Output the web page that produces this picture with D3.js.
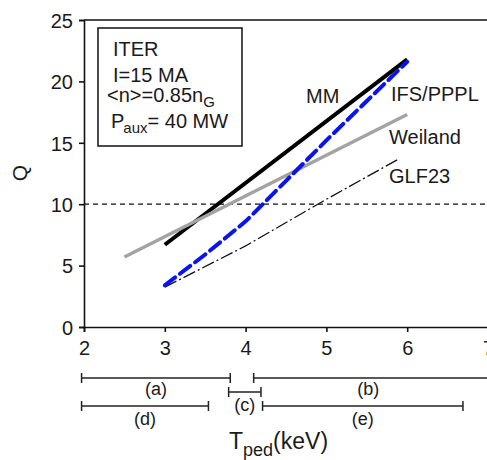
<!DOCTYPE html>
<html><head><meta charset="utf-8">
<script src="https://cdn.jsdelivr.net/npm/d3@7/dist/d3.min.js"></script>
<style>body{margin:0;background:#fff}svg{display:block}text{font-family:"Liberation Sans",Arial,sans-serif;fill:#1a1a1a}</style>
</head><body><svg id="c" width="487" height="460"></svg>
<script>
const tTicks = [2,3,4,5,6,7];
const qTicks = [0,5,10,15,20,25];
const mmT = [3,6], mmQ = [6.7,21.8];
const ifsT = [3,3.5,4,4.5,5,5.5,6], ifsQ = [3.4,5.9,8.6,11.9,15.2,18.4,21.6];
const weiT = [2.5,6], weiQ = [5.7,17.3];
const glfT = [3,4,5,5.9], glfQ = [3.25,6.6,10.4,13.7];
const qTarget = 10;
const rangeLabels = ["(a)","(b)","(c)","(d)","(e)"];
const rangeStart = [1.97,4.1,3.79,1.97,4.21];
const rangeEnd = [3.81,7.0,4.19,3.54,6.69];
const rangeRow = [0,0,1,2,2];
const boxLines = ["ITER","I=15 MA"];

const svg = d3.select("#c");
const x = d3.scaleLinear().domain([2,7]).range([84,488]);
const y = d3.scaleLinear().domain([0,25]).range([327,20]);

// axes
const xa = svg.append("g").attr("transform",`translate(0,${y(0)})`)
  .call(d3.axisBottom(x).tickValues(tTicks).tickFormat(d3.format("d")).tickSizeOuter(0).tickSize(5).tickPadding(9));
const ya = svg.append("g").attr("transform",`translate(${x(2)},0)`)
  .call(d3.axisLeft(y).tickValues(qTicks).tickSizeOuter(0).tickSize(5).tickPadding(6));
[xa,ya].forEach(g=>{
  g.selectAll("path,line").attr("stroke","#111").attr("stroke-width",1.6);
  g.selectAll("text").attr("font-size",20).attr("fill","#1a1a1a").style("font-family","Liberation Sans, Arial, sans-serif");
});
ya.selectAll("text").attr("dy","0.36em");
// top border
svg.append("line").attr("x1",x(2)).attr("x2",x(7)).attr("y1",y(25)).attr("y2",y(25)).attr("stroke","#111").attr("stroke-width",1.6);
svg.append("line").attr("x1",x(7)).attr("x2",x(7)).attr("y1",y(25)).attr("y2",y(0)).attr("stroke","#111").attr("stroke-width",1.6);

// target line
svg.append("line").attr("x1",x(2)).attr("x2",x(7)).attr("y1",y(qTarget)).attr("y2",y(qTarget))
  .attr("stroke","#111").attr("stroke-width",1.2).attr("stroke-dasharray","5,4");

const line = d3.line().x(d=>x(d[0])).y(d=>y(d[1]));
const zip = (a,b)=>a.map((v,i)=>[v,b[i]]);
svg.append("path").attr("d",line(zip(mmT,mmQ))).attr("fill","none").attr("stroke","#000").attr("stroke-width",4);
svg.append("path").attr("d",line(zip(weiT,weiQ))).attr("fill","none").attr("stroke","#a3a3a3").attr("stroke-width",3.5);
svg.append("path").attr("d",line(zip(glfT,glfQ))).attr("fill","none").attr("stroke","#111").attr("stroke-width",1.3).attr("stroke-dasharray","13,3,2,3");
svg.append("path").attr("d",line(d3.zip(ifsT,ifsQ))).attr("fill","none").attr("stroke","#0a14f0").attr("stroke-width",4).attr("stroke-dasharray","13,6").attr("stroke-linecap","round");

// series labels
const lab = (tx,ty,s)=>svg.append("text").attr("x",tx).attr("y",ty).attr("font-size",20).text(s);
lab(306,103,"MM");
lab(391,101,"IFS/PPPL");
lab(389,144,"Weiland");
lab(389,183,"GLF23");

// info box
svg.append("rect").attr("x",98).attr("y",28).attr("width",144).attr("height",118).attr("fill","none").attr("stroke","#111").attr("stroke-width",1.5);
svg.append("text").attr("x",113).attr("y",56).attr("font-size",20).text(boxLines[0]);
svg.append("text").attr("x",113).attr("y",82).attr("font-size",20).text(boxLines[1]);
const t3 = svg.append("text").attr("x",107).attr("y",102).attr("font-size",20);
t3.append("tspan").text("<n>=0.85n");
t3.append("tspan").attr("font-size",15).attr("dy",5).text("G");
const t4 = svg.append("text").attr("x",111).attr("y",128).attr("font-size",20);
t4.append("tspan").text("P");
t4.append("tspan").attr("font-size",15).attr("dy",5).attr("dx",-1).text("aux");
t4.append("tspan").attr("dy",-5).text("= 40 MW");

// y label
svg.append("text").attr("transform","translate(27,173) rotate(-90)").attr("text-anchor","middle").attr("font-size",21).text("Q");

// range bars
const rowY = [378,392,406];
const labY = [395,411,425];
const rg = svg.append("g");
rangeLabels.forEach((l,i)=>{
  const yy = rowY[rangeRow[i]];
  const x1 = x(rangeStart[i]), x2 = x(rangeEnd[i]);
  rg.append("line").attr("x1",x1).attr("x2",x2).attr("y1",yy).attr("y2",yy).attr("stroke","#222").attr("stroke-width",1.5);
  [x1,x2].forEach(xx=>rg.append("line").attr("x1",xx).attr("x2",xx).attr("y1",yy-5).attr("y2",yy+5).attr("stroke","#222").attr("stroke-width",1.5));
  rg.append("text").attr("x",(x1+Math.min(x2,487))/2 - (i===1?2:0)).attr("y",labY[rangeRow[i]]).attr("text-anchor","middle").attr("font-size",18).text(l);
});

// x label
const xl = svg.append("text").attr("x",229).attr("y",449).attr("font-size",23);
xl.append("tspan").text("T");
xl.append("tspan").attr("font-size",18).attr("dy",7).text("ped");
xl.append("tspan").attr("dy",-7).text("(keV)");
</script></body></html>
